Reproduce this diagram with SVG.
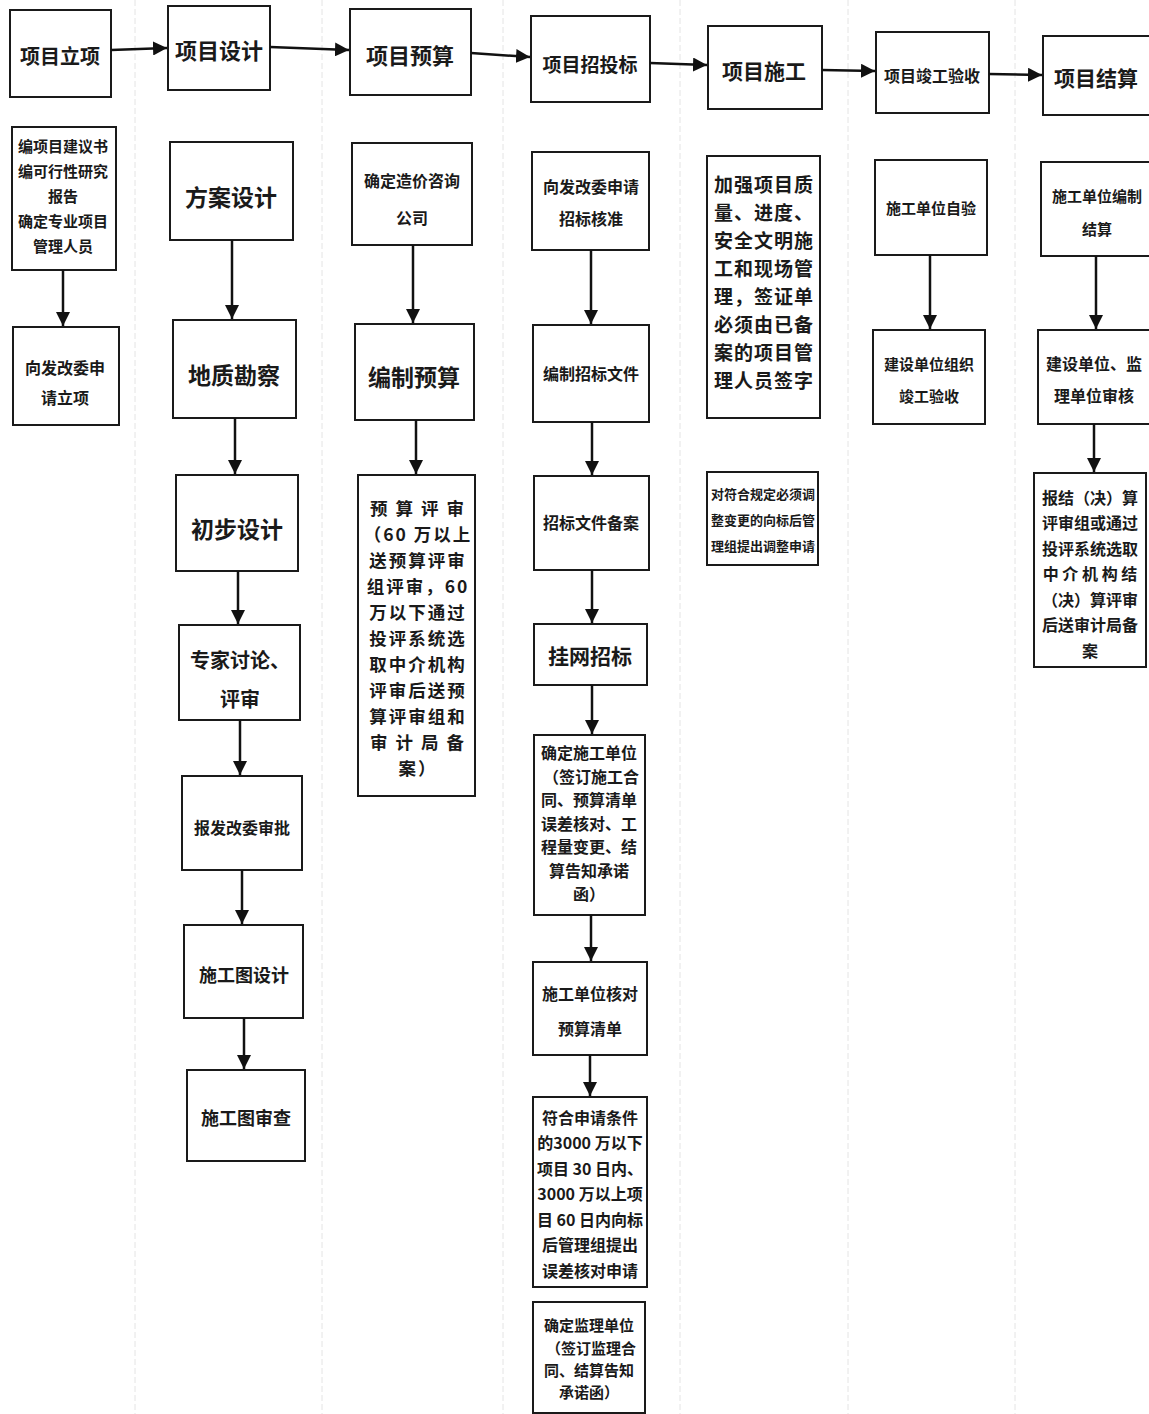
<svg xmlns="http://www.w3.org/2000/svg" width="1149" height="1414" viewBox="0 0 1149 1414">
<style>
.bx{fill:#fff;stroke:#1a1a1a;stroke-width:2}
.t{font-family:"Noto Sans CJK SC","Noto Sans",sans-serif;fill:#1a1a1a;text-anchor:middle;dominant-baseline:central;font-weight:bold}
.c{stroke:#111;stroke-width:2.5;fill:none;marker-end:url(#ah)}
.g{stroke:#e4e4e4;stroke-width:1;stroke-dasharray:6 3}
</style>
<defs>
<marker id="ah" markerUnits="userSpaceOnUse" markerWidth="16" markerHeight="14" refX="14" refY="7" orient="auto">
<path d="M0,0 L14,7 L0,14 z" fill="#111"/>
</marker>
</defs>
<rect width="1149" height="1414" fill="#fff"/>
<g id="guides">
<line class="g" x1="135" y1="0" x2="135" y2="1414"/>
<line class="g" x1="322" y1="0" x2="322" y2="1414"/>
<line class="g" x1="503" y1="0" x2="503" y2="1414"/>
<line class="g" x1="680" y1="0" x2="680" y2="1414"/>
<line class="g" x1="848" y1="0" x2="848" y2="1414"/>
<line class="g" x1="1015" y1="0" x2="1015" y2="1414"/>
</g>

<!-- top row -->
<g id="n_lixiang"><rect class="bx" x="10" y="10" width="101" height="87"/><text class="t" x="60" y="55" font-size="20">项目立项</text></g>
<g id="n_sheji"><rect class="bx" x="168" y="6" width="102" height="84"/><text class="t" x="219" y="49" font-size="22">项目设计</text></g>
<g id="n_yusuan"><rect class="bx" x="350" y="9" width="121" height="86"/><text class="t" x="410" y="54" font-size="22">项目预算</text></g>
<g id="n_zhaotoubiao"><rect class="bx" x="531" y="16" width="119" height="86"/><text class="t" x="590" y="63" font-size="19">项目招投标</text></g>
<g id="n_shigong"><rect class="bx" x="708" y="26" width="114" height="83"/><text class="t" x="764" y="70" font-size="21">项目施工</text></g>
<g id="n_jungong"><rect class="bx" x="876" y="32" width="113" height="81"/><text class="t" x="932" y="75" font-size="16">项目竣工验收</text></g>
<g id="n_jiesuan"><rect class="bx" x="1043" y="36" width="110" height="79"/><text class="t" x="1096" y="77" font-size="21">项目结算</text></g>

<!-- column 1 -->
<g id="n_c1a"><rect class="bx" x="12" y="127" width="104" height="143"/>
<text class="t" font-size="15"><tspan x="63" y="145">编项目建议书</tspan><tspan x="63" y="170">编可行性研究</tspan><tspan x="63" y="195">报告</tspan><tspan x="63" y="220">确定专业项目</tspan><tspan x="63" y="245">管理人员</tspan></text></g>
<g id="n_c1b"><rect class="bx" x="13" y="327" width="106" height="98"/>
<text class="t" font-size="16"><tspan x="65" y="367">向发改委申</tspan><tspan x="65" y="397">请立项</tspan></text></g>

<!-- column 2 -->
<g id="n_fangan"><rect class="bx" x="170" y="142" width="123" height="98"/><text class="t" x="231" y="196" font-size="23">方案设计</text></g>
<g id="n_dizhi"><rect class="bx" x="173" y="320" width="123" height="98"/><text class="t" x="234" y="374" font-size="23">地质勘察</text></g>
<g id="n_chubu"><rect class="bx" x="176" y="475" width="122" height="96"/><text class="t" x="237" y="528" font-size="23">初步设计</text></g>
<g id="n_zhuanjia"><rect class="bx" x="179" y="625" width="121" height="95"/>
<text class="t" font-size="20"><tspan x="240" y="659">专家讨论、</tspan><tspan x="240" y="698">评审</tspan></text></g>
<g id="n_baofagai"><rect class="bx" x="182" y="776" width="120" height="94"/><text class="t" x="242" y="827" font-size="16">报发改委审批</text></g>
<g id="n_shigongtu"><rect class="bx" x="184" y="925" width="119" height="93"/><text class="t" x="244" y="974" font-size="18">施工图设计</text></g>
<g id="n_shencha"><rect class="bx" x="187" y="1070" width="118" height="91"/><text class="t" x="246" y="1117" font-size="18">施工图审查</text></g>

<!-- column 3 -->
<g id="n_zixun"><rect class="bx" x="352" y="143" width="120" height="102"/>
<text class="t" font-size="16"><tspan x="412" y="180">确定造价咨询</tspan><tspan x="412" y="217">公司</tspan></text></g>
<g id="n_bianzhi"><rect class="bx" x="355" y="324" width="119" height="96"/><text class="t" x="414" y="376" font-size="23">编制预算</text></g>
<g id="n_pingshen"><rect class="bx" x="358" y="475" width="117" height="321"/>
<text class="t" font-size="17.5" letter-spacing="2"><tspan x="418" y="507">预 算 评 审</tspan><tspan x="418" y="533">（60 万以上</tspan><tspan x="418" y="559">送预算评审</tspan><tspan x="418" y="585">组评审，60</tspan><tspan x="418" y="611">万以下通过</tspan><tspan x="418" y="637">投评系统选</tspan><tspan x="418" y="663">取中介机构</tspan><tspan x="418" y="689">评审后送预</tspan><tspan x="418" y="715">算评审组和</tspan><tspan x="418" y="741">审 计 局 备</tspan><tspan x="418" y="767">案）</tspan></text></g>

<!-- column 4 -->
<g id="n_hezhun"><rect class="bx" x="532" y="152" width="117" height="98"/>
<text class="t" font-size="16"><tspan x="591" y="186">向发改委申请</tspan><tspan x="591" y="218">招标核准</tspan></text></g>
<g id="n_zhaobiaowj"><rect class="bx" x="533" y="325" width="116" height="97"/><text class="t" x="591" y="373" font-size="16">编制招标文件</text></g>
<g id="n_beian"><rect class="bx" x="534" y="476" width="115" height="94"/><text class="t" x="591" y="522" font-size="16">招标文件备案</text></g>
<g id="n_guawang"><rect class="bx" x="534" y="624" width="113" height="61"/><text class="t" x="590" y="655" font-size="21">挂网招标</text></g>
<g id="n_shigongdw"><rect class="bx" x="534" y="735" width="111" height="180"/>
<text class="t" font-size="16"><tspan x="589" y="752">确定施工单位</tspan><tspan x="591" y="776">（签订施工合</tspan><tspan x="589" y="799">同、预算清单</tspan><tspan x="589" y="823">误差核对、工</tspan><tspan x="589" y="846">程量变更、结</tspan><tspan x="589" y="870">算告知承诺</tspan><tspan x="589" y="893">函）</tspan></text></g>
<g id="n_hedui"><rect class="bx" x="533" y="962" width="114" height="93"/>
<text class="t" font-size="16"><tspan x="590" y="993">施工单位核对</tspan><tspan x="590" y="1028">预算清单</tspan></text></g>
<g id="n_fuhe"><rect class="bx" x="533" y="1097" width="114" height="190"/>
<text class="t" font-size="16"><tspan x="590" y="1117">符合申请条件</tspan><tspan x="590" y="1142">的3000 万以下</tspan><tspan x="590" y="1168">项目 30 日内、</tspan><tspan x="590" y="1193">3000 万以上项</tspan><tspan x="590" y="1219">目 60 日内向标</tspan><tspan x="590" y="1244">后管理组提出</tspan><tspan x="590" y="1270">误差核对申请</tspan></text></g>
<g id="n_jianli"><rect class="bx" x="533" y="1302" width="112" height="111"/>
<text class="t" font-size="15"><tspan x="589" y="1324">确定监理单位</tspan><tspan x="591" y="1347">（签订监理合</tspan><tspan x="589" y="1369">同、结算告知</tspan><tspan x="589" y="1391">承诺函）</tspan></text></g>

<!-- column 5 -->
<g id="n_jiaqiang"><rect class="bx" x="707" y="156" width="113" height="262"/>
<text class="t" font-size="19" letter-spacing="1"><tspan x="764" y="183">加强项目质</tspan><tspan x="764" y="211">量、进度、</tspan><tspan x="764" y="239">安全文明施</tspan><tspan x="764" y="267">工和现场管</tspan><tspan x="764" y="295">理，签证单</tspan><tspan x="764" y="323">必须由已备</tspan><tspan x="764" y="351">案的项目管</tspan><tspan x="764" y="379">理人员签字</tspan></text></g>
<g id="n_tiaozheng"><rect class="bx" x="707" y="472" width="111" height="93"/>
<text class="t" font-size="13"><tspan x="763" y="493">对符合规定必须调</tspan><tspan x="763" y="519">整变更的向标后管</tspan><tspan x="763" y="545">理组提出调整申请</tspan></text></g>

<!-- column 6 -->
<g id="n_ziyan"><rect class="bx" x="875" y="160" width="112" height="95"/><text class="t" x="931" y="207" font-size="15">施工单位自验</text></g>
<g id="n_zuzhi"><rect class="bx" x="873" y="330" width="112" height="94"/>
<text class="t" font-size="15"><tspan x="929" y="363">建设单位组织</tspan><tspan x="929" y="395">竣工验收</tspan></text></g>

<!-- column 7 -->
<g id="n_bianzhijs"><rect class="bx" x="1041" y="162" width="110" height="94"/>
<text class="t" font-size="15"><tspan x="1097" y="195">施工单位编制</tspan><tspan x="1097" y="228">结算</tspan></text></g>
<g id="n_shenhe"><rect class="bx" x="1038" y="330" width="112" height="94"/>
<text class="t" font-size="16"><tspan x="1094" y="363">建设单位、监</tspan><tspan x="1094" y="395">理单位审核</tspan></text></g>
<g id="n_baojie"><rect class="bx" x="1034" y="473" width="112" height="194"/>
<text class="t" font-size="16"><tspan x="1090" y="497">报结（决）算</tspan><tspan x="1090" y="522">评审组或通过</tspan><tspan x="1090" y="548">投评系统选取</tspan><tspan x="1090" y="573">中 介 机 构 结</tspan><tspan x="1090" y="599">（决）算评审</tspan><tspan x="1090" y="624">后送审计局备</tspan><tspan x="1090" y="650">案</tspan></text></g>

<g id="connectors">
<line class="c" x1="111" y1="50" x2="167" y2="48"/>
<line class="c" x1="270" y1="47" x2="349" y2="50"/>
<line class="c" x1="471" y1="53" x2="530" y2="57"/>
<line class="c" x1="650" y1="63" x2="707" y2="65"/>
<line class="c" x1="822" y1="70" x2="875" y2="71"/>
<line class="c" x1="989" y1="74" x2="1042" y2="75"/>
<line class="c" x1="63" y1="270" x2="63" y2="326"/>
<line class="c" x1="232" y1="240" x2="232" y2="319"/>
<line class="c" x1="235" y1="418" x2="235" y2="474"/>
<line class="c" x1="238" y1="571" x2="238" y2="624"/>
<line class="c" x1="240" y1="720" x2="240" y2="775"/>
<line class="c" x1="242" y1="870" x2="242" y2="924"/>
<line class="c" x1="244" y1="1018" x2="244" y2="1069"/>
<line class="c" x1="413" y1="245" x2="413" y2="323"/>
<line class="c" x1="416" y1="420" x2="416" y2="474"/>
<line class="c" x1="591" y1="250" x2="591" y2="324"/>
<line class="c" x1="592" y1="422" x2="592" y2="475"/>
<line class="c" x1="592" y1="570" x2="592" y2="623"/>
<line class="c" x1="592" y1="685" x2="592" y2="734"/>
<line class="c" x1="591" y1="915" x2="591" y2="961"/>
<line class="c" x1="590" y1="1055" x2="590" y2="1096"/>
<line class="c" x1="930" y1="255" x2="930" y2="329"/>
<line class="c" x1="1096" y1="256" x2="1096" y2="329"/>
<line class="c" x1="1094" y1="424" x2="1094" y2="472"/>
</g>
</svg>
